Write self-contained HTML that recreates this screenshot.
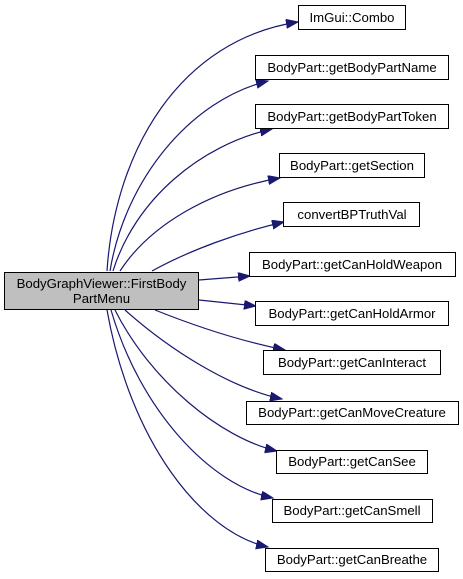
<!DOCTYPE html>
<html><head><meta charset="utf-8"><style>
html,body{margin:0;padding:0;background:#fff;}
svg{display:block;}
text{font-family:"Liberation Sans",Arial,sans-serif;font-size:13.2px;fill:#000;}
</style></head><body>
<svg width="463" height="579" viewBox="0 0 463 579" xmlns="http://www.w3.org/2000/svg">
<defs>
<marker id="a" markerUnits="userSpaceOnUse" markerWidth="14" markerHeight="10" refX="12" refY="4.5" orient="auto">
<path d="M0,0 L12,4.5 L0,9 Z" fill="#191970" stroke="#191970"/>
</marker>
</defs>
<g fill="none" stroke="#191970" stroke-width="1.2" marker-end="url(#a)">
<path d="M107,271 C115,150 180,40 298,22"/>
<path d="M110,271 C125,180 190,100 268,81"/>
<path d="M113,271 C135,200 200,145 272,129"/>
<path d="M120,271 C150,225 210,190 280,178"/>
<path d="M152,271 C190,250 240,232 284,222"/>
<path d="M199,280 L250,276"/>
<path d="M199,300 L256,306"/>
<path d="M155,310 C200,328 245,342 285,350"/>
<path d="M125,310 C170,350 230,388 282,399"/>
<path d="M115,310 C150,380 220,438 277,451"/>
<path d="M111,310 C140,410 210,485 273,498"/>
<path d="M107,310 C130,440 200,532 268,547"/>
</g>
<g stroke="#000" stroke-width="1">
<rect x="4.5" y="272.5" width="194" height="37" fill="#bfbfbf"/>
<rect x="298.5" y="5.5" width="107" height="24" fill="#fff"/>
<rect x="255.5" y="55.5" width="193" height="24" fill="#fff"/>
<rect x="255.5" y="104.5" width="193" height="24" fill="#fff"/>
<rect x="279.5" y="153.5" width="145" height="24" fill="#fff"/>
<rect x="283.5" y="202.5" width="136" height="24" fill="#fff"/>
<rect x="249.5" y="252.5" width="206" height="24" fill="#fff"/>
<rect x="255.5" y="301.5" width="193" height="24" fill="#fff"/>
<rect x="263.5" y="350.5" width="177" height="24" fill="#fff"/>
<rect x="246.5" y="401.5" width="212" height="23" fill="#fff"/>
<rect x="276.5" y="450.5" width="151" height="23" fill="#fff"/>
<rect x="272.5" y="499.5" width="160" height="23" fill="#fff"/>
<rect x="265.5" y="548.5" width="173" height="23" fill="#fff"/>
</g>
<g text-anchor="middle">
<text x="101.5" y="288">BodyGraphViewer::FirstBody</text>
<text x="101.5" y="303">PartMenu</text>
<text x="352" y="22">ImGui::Combo</text>
<text x="352" y="72">BodyPart::getBodyPartName</text>
<text x="352" y="121">BodyPart::getBodyPartToken</text>
<text x="352" y="170">BodyPart::getSection</text>
<text x="352" y="219">convertBPTruthVal</text>
<text x="352" y="269">BodyPart::getCanHoldWeapon</text>
<text x="352" y="318">BodyPart::getCanHoldArmor</text>
<text x="352" y="367">BodyPart::getCanInteract</text>
<text x="352" y="417">BodyPart::getCanMoveCreature</text>
<text x="352" y="466">BodyPart::getCanSee</text>
<text x="352" y="515">BodyPart::getCanSmell</text>
<text x="352" y="564">BodyPart::getCanBreathe</text>
</g>
</svg>
</body></html>
